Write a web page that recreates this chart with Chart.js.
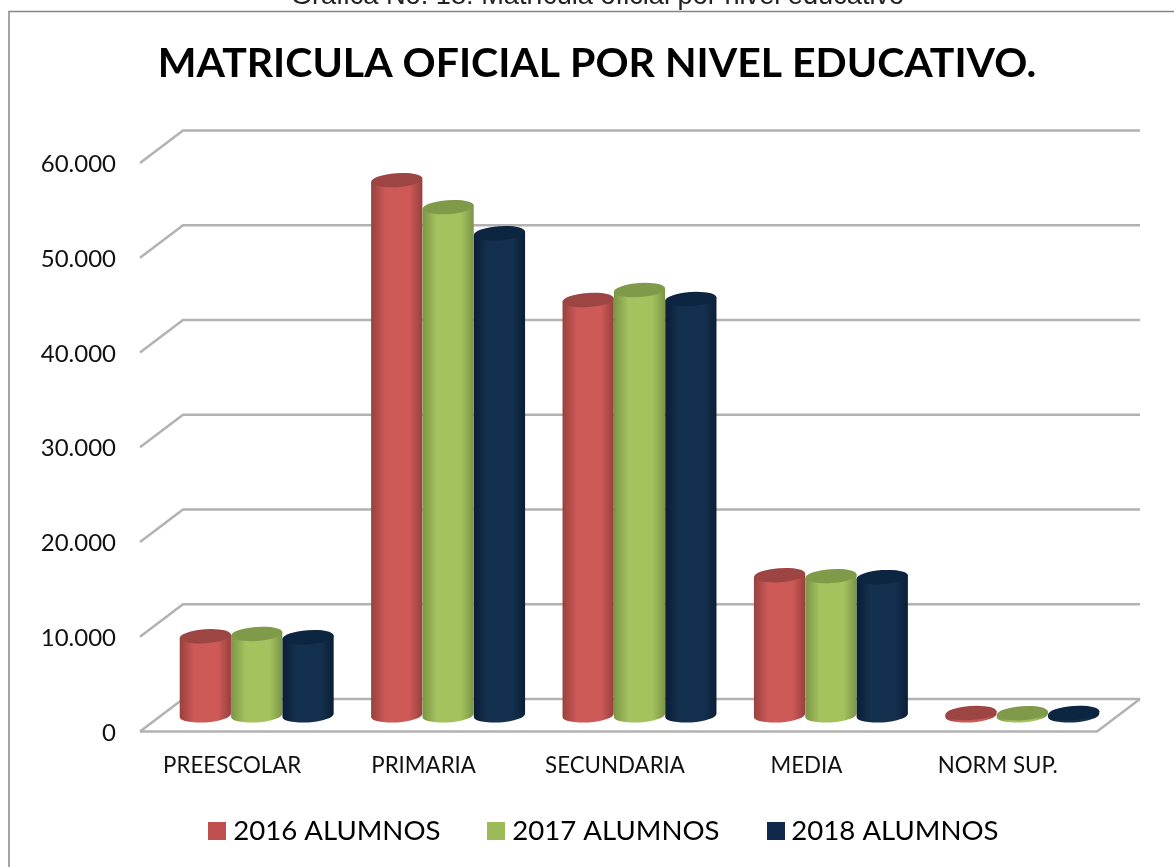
<!DOCTYPE html>
<html lang="es">
<head>
<meta charset="utf-8">
<title>Matrícula oficial por nivel educativo</title>
<style>
html,body{margin:0;padding:0;background:#fff;overflow:hidden;width:1174px;height:867px}
#cap{position:absolute;left:0;top:-15px;width:1195px;text-align:center;font:27.2px/20px "Liberation Sans",Arial,sans-serif;color:#222;white-space:nowrap;z-index:2}
canvas{display:block;position:absolute;left:0;top:0}
</style>
<script src="https://cdn.jsdelivr.net/npm/chart.js@4/dist/chart.umd.min.js"></script>
</head>
<body>
<div id="cap">Gráfica No. 18: Matrícula oficial por nivel educativo</div>
<canvas id="c" width="1174" height="867"></canvas>
<script>
const chartTitle = 'MATRICULA OFICIAL POR NIVEL EDUCATIVO.';
const categories = ['PREESCOLAR','PRIMARIA','SECUNDARIA','MEDIA','NORM SUP.'];
const seriesNames = ['2016 ALUMNOS','2017 ALUMNOS','2018 ALUMNOS'];
const alumnos2016 = [8350,56500,43850,14800,250];
const alumnos2017 = [8600,53650,44900,14700,230];
const alumnos2018 = [8250,50900,43950,14600,260];
const tickLabels = ['0','10.000','20.000','30.000','40.000','50.000','60.000'];
const seriesValues = [alumnos2016,alumnos2017,alumnos2018];

const legendColors = ['#c0504d','#9bbb59','#10294a'];
const topColors = ['#9c4543','#7f9a48','#0c2540'];
const edgeColors = ['#98403e','#7a9545','#0a1e36'];
const midColors = ['#cd5a57','#a4c25e','#14304f'];

const DEPTH_X = 43, DEPTH_Y = 32.5;
const BAR_DX = 21, BAR_DY = 16, RY = 7, TILT = -0.07;

function swatch(color){
  const s = document.createElement('canvas');
  s.width = 18; s.height = 18;
  const g = s.getContext('2d');
  g.fillStyle = color; g.fillRect(0,0,18,18);
  return s;
}

function cylinder(ctx, cx, topY, botY, rx, i){
  const ex = rx*Math.cos(TILT), ey = rx*Math.sin(TILT);
  const grad = ctx.createLinearGradient(cx-rx,0,cx+rx,0);
  grad.addColorStop(0,edgeColors[i]);
  grad.addColorStop(0.28,midColors[i]);
  grad.addColorStop(0.5,midColors[i]);
  grad.addColorStop(0.75,midColors[i]);
  grad.addColorStop(1,edgeColors[i]);
  ctx.fillStyle = grad;
  ctx.beginPath();
  ctx.moveTo(cx-ex,topY-ey);
  ctx.lineTo(cx-ex,botY-ey);
  ctx.ellipse(cx,botY,rx,RY,TILT,Math.PI,0,true);
  ctx.lineTo(cx+ex,topY+ey);
  ctx.closePath();
  ctx.fill();
  ctx.fillStyle = topColors[i];
  ctx.beginPath();
  ctx.ellipse(cx,topY,rx,RY,TILT,0,Math.PI*2);
  ctx.fill();
}

const scene3d = {
  id:'scene3d',
  afterLayout(chart){
    const l = chart.legend, t = chart.titleBlock;
    l.left += 58.5; l.right += 58.5;
    l.top += -12.5; l.bottom += -12.5;
    t.left += 48.5; t.right += 48.5;
  },
  beforeDatasetDraw(){ return false; },
  beforeDatasetsDraw(chart){
    const ctx = chart.ctx, y = chart.scales.y, a = chart.chartArea;
    ctx.save();
    ctx.filter = 'blur(0.6px)';
    // chart frame
    ctx.strokeStyle = '#868686'; ctx.lineWidth = 1.5;
    ctx.beginPath(); ctx.moveTo(9,867); ctx.lineTo(9,11.5); ctx.lineTo(1174,11.5); ctx.stroke();
    // back wall and side lines
    ctx.strokeStyle = '#b2b2b2'; ctx.lineWidth = 2.5;
    y.ticks.forEach(t=>{
      const py = y.getPixelForValue(t.value);
      ctx.beginPath();
      ctx.moveTo(a.left,py);
      ctx.lineTo(a.left+DEPTH_X,py-DEPTH_Y);
      ctx.lineTo(a.right+DEPTH_X,py-DEPTH_Y);
      ctx.stroke();
    });
    // floor front edge
    const b = y.getPixelForValue(0);
    ctx.beginPath();
    ctx.moveTo(a.left,b); ctx.lineTo(a.right,b); ctx.lineTo(a.right+DEPTH_X,b-DEPTH_Y);
    ctx.stroke();
    // cylinders
    chart.data.datasets.forEach((ds,i)=>{
      chart.getDatasetMeta(i).data.forEach(el=>{
        cylinder(ctx, el.x+BAR_DX, el.y-BAR_DY, el.base-BAR_DY, el.width/2, i);
      });
    });
    ctx.restore();
  }
};

new Chart(document.getElementById('c'),{
  type:'bar',
  data:{
    labels:categories,
    datasets:seriesNames.map((n,i)=>({label:n,data:seriesValues[i],backgroundColor:legendColors[i],barPercentage:1,categoryPercentage:0.805}))
  },
  options:{
    responsive:false,
    animation:false,
    devicePixelRatio:1,
    layout:{padding:{left:0,top:0,bottom:0,right:77}},
    plugins:{
      tooltip:{enabled:false},
      title:{display:true,text:chartTitle,color:'#000',
        font:{family:'Lato',size:41,weight:'bold',lineHeight:1.2},
        padding:{top:39,bottom:74.8}},
      legend:{position:'bottom',
        labels:{
          usePointStyle:true,pointStyleWidth:4,boxHeight:18,padding:54,
          color:'#111',font:{family:'Lato',size:27.6},
          generateLabels(chart){
            return chart.data.datasets.map((d,i)=>({text:d.label,fillStyle:legendColors[i],strokeStyle:legendColors[i],lineWidth:0,pointStyle:swatch(legendColors[i]),datasetIndex:i}));
          }
        }
      }
    },
    scales:{
      x:{
        grid:{display:false},border:{display:false},
        ticks:{color:'#111',font:{family:'Lato',size:22.3},padding:13,labelOffset:-3.5,maxRotation:0,autoSkip:false},
        afterFit(s){ s.height = 44; }
      },
      y:{
        min:0,max:60000,
        grid:{display:false},border:{display:false},
        ticks:{stepSize:10000,color:'#111',font:{family:'Lato',size:24},padding:16,labelOffset:1.5,callback:(v,i)=>tickLabels[i]},
        afterFit(s){ s.width = 140; }
      }
    }
  },
  plugins:[scene3d]
});
</script>
</body>
</html>
